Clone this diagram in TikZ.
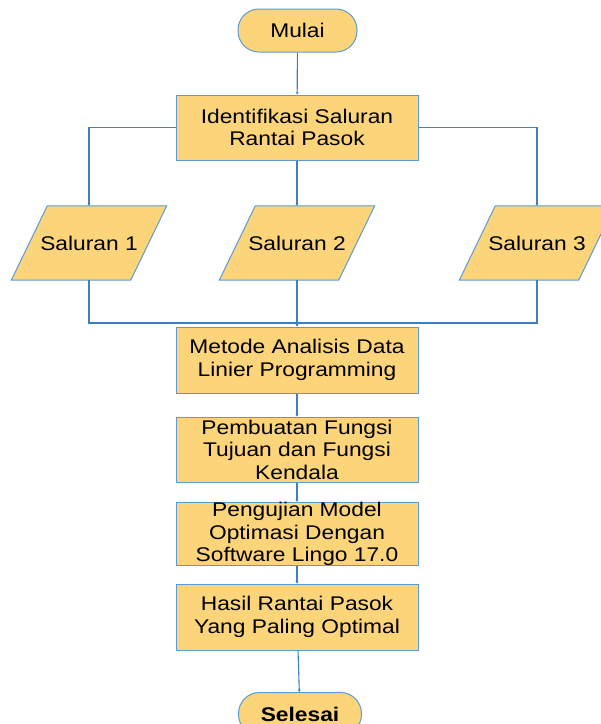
\documentclass[tikz,border=0pt]{standalone}
\usepackage{fontspec}
\setmainfont[FakeStretch=1.15]{Liberation Sans}
\usetikzlibrary{arrows.meta,backgrounds}
\definecolor{boxfill}{HTML}{FCD57A}
\definecolor{boxline}{HTML}{5B9BD5}
\definecolor{flowline}{HTML}{3F7FBF}
\tikzset{
  base/.style={draw=boxline, line width=1pt, fill=boxfill, inner sep=0pt, align=center,
    font=\fontsize{19.8}{22.5}\selectfont},
  box/.style={base, rectangle, minimum width=242pt},
  terminal/.style={base, rectangle, rounded corners=21pt, minimum width=119pt, minimum height=43pt},
  io/.style={rectangle, inner sep=0pt, minimum width=119pt, minimum height=74pt,
    font=\fontsize{19.8}{22.5}\selectfont},
  para/.style={draw=boxline, line width=1pt, fill=boxfill},
  flow/.style={draw=flowline, line width=1.1pt, -{Stealth[length=2.5pt,width=3pt]}},
  link/.style={draw=flowline, line width=1.1pt}
}

\begin{document}
\begin{tikzpicture}[x=1pt,y=-1pt]
  \useasboundingbox (0,0) rectangle (601,724);
  \node[terminal] (mulai) at (297.5,30.5) {Mulai};
  \node[box, minimum height=65pt] (ident) at (297,127.5) {Identifikasi Saluran\\Rantai Pasok};
  \node[io] (sal1) at (89,243) {Saluran 1};
  \node[io] (sal2) at (297,243) {Saluran 2};
  \node[io] (sal3) at (537,243) {Saluran 3};
  \coordinate (join) at (297,323);
  \node[box, minimum height=66pt] (metode) at (297,360) {Metode Analisis Data\\Linier Programming};
  \node[box, minimum height=65pt] (fungsi) at (297,449.5) {Pembuatan Fungsi\\Tujuan dan Fungsi\\Kendala};
  \node[box, minimum height=62pt] (uji) at (297,534) {Pengujian Model\\Optimasi Dengan\\Software Lingo 17.0};
  \node[box, minimum height=66pt] (hasil) at (297,617) {Hasil Rantai Pasok\\Yang Paling Optimal};
  \node[terminal, minimum width=123pt, font=\fontsize{19.8}{22.5}\selectfont\bfseries] (selesai) at (300,714) {Selesai};

  % slanted input boxes behind the text
  \begin{scope}[on background layer]
    \foreach \s in {sal1,sal2,sal3}
      \draw[para] ([xshift=-18pt]\s.south west) -- ([xshift=-18pt]\s.south east)
        -- ([xshift=18pt]\s.north east) -- ([xshift=18pt]\s.north west) -- cycle;
  \end{scope}

  \draw[flow] (mulai) -- (ident);
  \draw[flow] (ident.west) -| (sal1);
  \draw[flow] (ident) -- (sal2);
  \draw[flow] (ident.east) -| (sal3);
  \draw[link] (sal1) |- (join);
  \draw[link] (sal3) |- (join);
  \draw[flow] (sal2) -- (metode);
  \draw[flow] (metode) -- (fungsi);
  \draw[flow] (fungsi) -- (uji);
  \draw[flow] (uji) -- (hasil);
  \draw[flow] (hasil) -- (selesai);
\end{tikzpicture}
\end{document}
